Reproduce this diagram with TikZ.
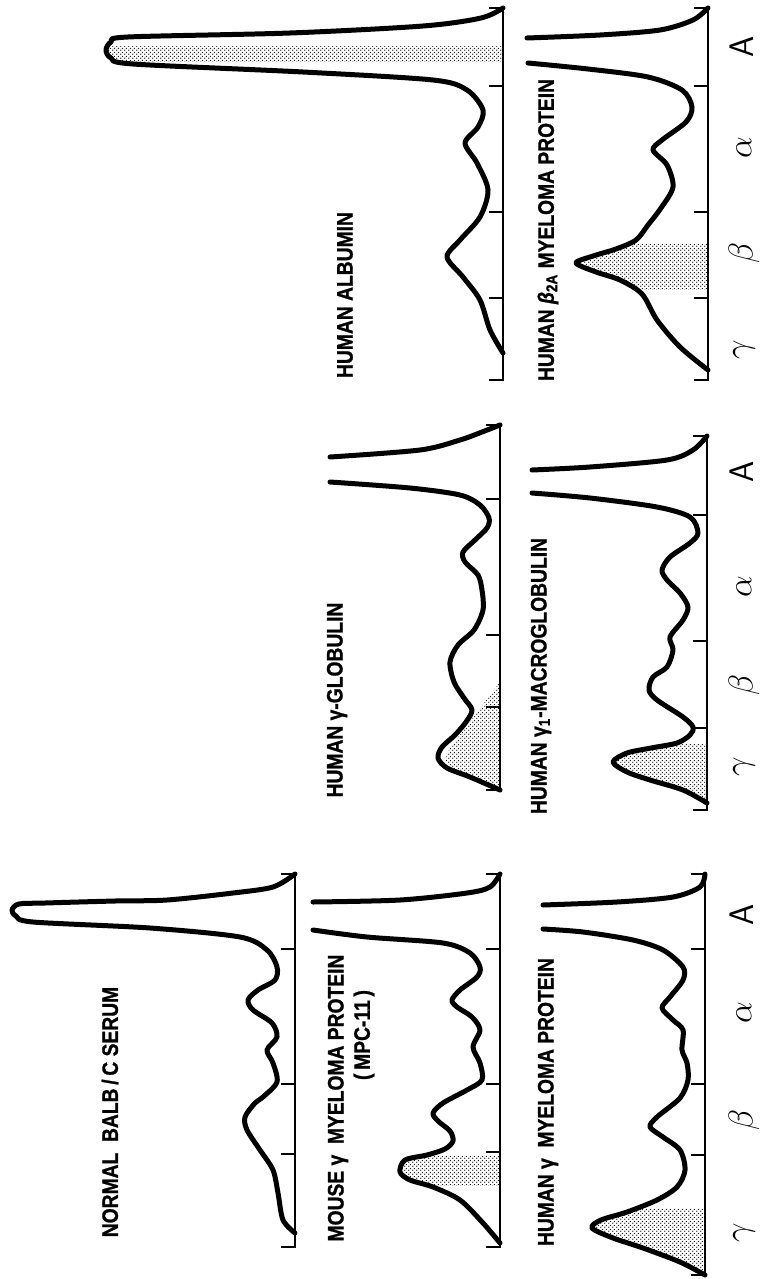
\documentclass[tikz,border=0pt]{standalone}
\usepackage{fontspec}
\newfontfamily\labfont[FakeStretch=0.86, FakeBold=1]{Liberation Sans}
\usetikzlibrary{patterns}

% fine stipple dots
\pgfdeclarepatternformonly{stip}{\pgfpointorigin}{\pgfpoint{2pt}{2pt}}{\pgfpoint{2pt}{2pt}}{%
  \pgfpathcircle{\pgfpoint{0.5pt}{0.5pt}}{0.42pt}%
  \pgfpathcircle{\pgfpoint{1.5pt}{1.5pt}}{0.42pt}%
  \pgfusepath{fill}}

\tikzset{
  curve/.style={line width=2.5pt, line cap=round, line join=round},
  gelaxis/.style={line width=1.1pt},
  stipple/.style={pattern=stip, pattern color=black!90},
  protname/.style={rotate=90, inner sep=0pt, font=\labfont\fontsize{11.2}{13}\selectfont\bfseries},
  zonelab/.style={rotate=90, inner sep=0pt, font=\fontsize{17}{17}\selectfont},
  plotframe/.style={x={(0pt,0.5pt)}, y={(-0.5pt,0pt)}}
}

\begin{document}
\begin{tikzpicture}[x=0.5pt, y=-0.5pt]
    \useasboundingbox (0,0) rectangle (763,1279);

    % 1. Human albumin (top, left)
    \begin{scope}[shift={(503,380)}, plotframe]
        \draw[gelaxis] (0,14) -- (0,0) -- (372,0) -- (372,14);
        \foreach \t in {82,168,294} \draw[gelaxis] (\t,0) -- (\t,14);
        \begin{scope}
            \clip (318,0) rectangle (333,400);
            \fill[stipple] plot[smooth] coordinates {(300,70) (308,200) (316,370) (322,392) (330,397) (338,392) (343,375) (347,213) (354,80)} -- (354,0) -- (300,0) -- cycle;
        \end{scope}
        \draw[curve] plot[smooth] coordinates {(27,0) (50,13) (80,23) (103,40) (123,56) (140,43) (163,23) (190,15) (217,26) (237,38) (253,25) (270,20) (290,36) (300,70) (308,200) (316,370) (322,392) (330,397) (338,392) (343,375) (347,213) (354,80) (362,22) (372,0)};
    \end{scope}
    \node[protname] (talb) at (345,295) {HUMAN ALBUMIN};

    % 2. Human beta2A myeloma protein (top, right)
    \begin{scope}[shift={(708,380)}, plotframe]
        \draw[gelaxis] (0,14) -- (0,0) -- (372,0) -- (372,14);
        \foreach \t in {82,168,294} \draw[gelaxis] (\t,0) -- (\t,14);
        \begin{scope}
            \clip (91,0) rectangle (137,140);
            \fill[stipple] plot[smooth] coordinates {(60,51) (86,66) (100,88) (108,112) (117,132) (124,115) (131,92) (140,72) (155,60)} -- (155,0) -- (60,0) -- cycle;
        \end{scope}
        \draw[curve] plot[smooth] coordinates {(10,0) (33,28) (60,51) (86,66) (100,88) (108,112) (117,132) (124,115) (131,92) (140,72) (155,60) (172,47) (193,35) (215,41) (230,55) (240,46) (258,22) (273,16) (290,26) (303,60) (311,120) (317,180)};
        \draw[curve] plot[smooth] coordinates {(342,181) (345,108) (350,48) (360,15) (372,0)};
    \end{scope}
    \node[protname] (tbeta) at (548,230) {HUMAN {\itshape β}\textsubscript{2A} MYELOMA PROTEIN};

    % 3. Human gamma-globulin (middle, left)
    \begin{scope}[shift={(500,790)}, plotframe]
        \draw[gelaxis] (0,14) -- (0,0) -- (365,0) -- (365,14);
        \foreach \t in {83,155,291} \draw[gelaxis] (\t,0) -- (\t,14);
        \fill[stipple] (3,0) -- plot[smooth] coordinates {(3,5) (12,25) (20,45) (30,54) (42,50)} -- (108,0) -- cycle;
        \draw[curve] plot[smooth] coordinates {(0,0) (13,30) (22,53) (32,62) (43,58) (55,45) (68,34) (80,28) (92,36) (108,46) (128,50) (145,42) (160,26) (180,17) (200,18) (215,22) (228,35) (238,37) (250,25) (262,13) (272,11) (285,20) (295,40) (302,90) (308,170)};
        \draw[curve] plot[smooth] coordinates {(333,170) (340,80) (350,40) (358,18) (365,0)};
    \end{scope}
    \node[protname] (tglob) at (337,700) {HUMAN γ-GLOBULIN};

    % 4. Human gamma1-macroglobulin (middle, right)
    \begin{scope}[shift={(707,810)}, plotframe]
        \draw[gelaxis] (0,14) -- (0,0) -- (374,0) -- (374,14);
        \foreach \t in {82,169,295} \draw[gelaxis] (\t,0) -- (\t,14);
        \begin{scope}
            \clip (0,0) rectangle (66,100);
            \fill[stipple] plot[smooth] coordinates {(7,0) (20,24) (30,57) (38,80) (48,94) (57,80) (62,56) (67,30) (75,17)} -- (75,0) -- cycle;
        \end{scope}
        \draw[curve] plot[smooth] coordinates {(7,0) (20,24) (30,57) (38,80) (48,94) (57,80) (62,56) (67,30) (75,17) (83,14) (93,24) (110,50) (120,58) (133,54) (143,40) (160,34) (173,37) (190,24) (203,19) (217,27) (230,40) (240,45) (253,37) (267,17) (277,9) (293,17) (303,50) (312,117) (317,175)};
        \draw[curve] plot[smooth] coordinates {(340,175) (343,117) (350,40) (360,14) (374,0)};
    \end{scope}
    \node[protname] (tmacro) at (541,676) {HUMAN γ\textsubscript{1}-MACROGLOBULIN};

    % 5. Normal BALB/c serum (bottom, left)
    \begin{scope}[shift={(295,1247)}, plotframe]
        \draw[gelaxis] (0,14) -- (0,0) -- (373,0) -- (373,14);
        \foreach \t in {93,163,298} \draw[gelaxis] (\t,0) -- (\t,14);
        \draw[curve] plot[smooth] coordinates {(14,0) (27,12) (54,17) (77,22) (97,35) (117,48) (130,50) (144,40) (150,32) (165,18) (184,22) (197,28) (210,18) (224,23) (237,42) (247,47) (257,37) (267,20) (280,18) (297,28) (310,55) (319,145) (325,262) (331,279) (337,283) (343,276) (344,250) (346,180) (347,128) (354,62) (360,22) (373,0)};
    \end{scope}
    \node[protname] (tnorm) at (110,1112) {NORMAL\ \ BALB\,/\,C SERUM};

    % 6. Mouse gamma myeloma protein (bottom, middle)
    \begin{scope}[shift={(500,1247)}, plotframe]
        \draw[gelaxis] (0,14) -- (0,0) -- (373,0) -- (373,14);
        \foreach \t in {95,163,298} \draw[gelaxis] (\t,0) -- (\t,14);
        \begin{scope}
            \clip (62,0) rectangle (92,110);
            \fill[stipple] plot[smooth] coordinates {(47,40) (60,67) (67,90) (75,100) (87,95) (92,73) (98,55)} -- (98,0) -- (47,0) -- cycle;
        \end{scope}
        \draw[curve] plot[smooth] coordinates {(4,0) (24,17) (47,40) (60,67) (67,90) (75,100) (87,95) (92,73) (98,55) (106,47) (116,50) (126,62) (134,67) (144,57) (157,33) (167,18) (184,20) (200,27) (217,20) (230,28) (240,43) (247,48) (257,40) (270,23) (280,20) (294,30) (304,57) (310,133) (317,187)};
        \draw[curve] plot[smooth] coordinates {(345,187) (347,100) (354,33) (360,10) (373,0)};
    \end{scope}
    \node[protname] (tmouse) at (338,1098) {MOUSE γ\ \ MYELOMA PROTEIN};
    \node[protname] (tmpc) at (364,1035) {(\,MPC-11\,)};

    % 7. Human gamma myeloma protein (bottom, right)
    \begin{scope}[shift={(705,1275)}, plotframe]
        \draw[gelaxis] (0,14) -- (0,0) -- (401,0) -- (401,14);
        \foreach \t in {120,191,326} \draw[gelaxis] (\t,0) -- (\t,14);
        \begin{scope}
            \clip (0,0) rectangle (67,120);
            \fill[stipple] plot[smooth] coordinates {(0,0) (13,25) (27,62) (37,92) (47,113) (55,104) (63,78) (75,48)} -- (75,0) -- cycle;
        \end{scope}
        \draw[curve] plot[smooth] coordinates {(0,0) (13,25) (27,62) (37,92) (47,113) (55,104) (63,78) (75,48) (88,28) (105,20) (125,25) (138,42) (148,55) (158,48) (177,25) (195,17) (212,18) (225,23) (245,22) (255,32) (267,43) (278,35) (295,22) (308,22) (325,42) (335,72) (343,122) (346,162)};
        \draw[curve] plot[smooth] coordinates {(370,162) (373,88) (378,32) (388,5) (401,0)};
    \end{scope}
    \node[protname] (thumg) at (548,1102) {HUMAN γ\ \ MYELOMA PROTEIN};

    % 8. Zone letters along the right edge
    \foreach \ya/\yb/\yc/\yd/\g in {47/148/253/350/top, 472/587/685/767/mid, 915/1013/1120/1233/bot} {
        \node[zonelab] (A\g) at (742,\ya) {\sffamily A};
        \node[zonelab] (al\g) at (744,\yb) {$\alpha$};
        \node[zonelab] (be\g) at (744,\yc) {$\beta$};
        \node[zonelab] (ga\g) at (744,\yd) {$\gamma$};
    }
\end{tikzpicture}
\end{document}
